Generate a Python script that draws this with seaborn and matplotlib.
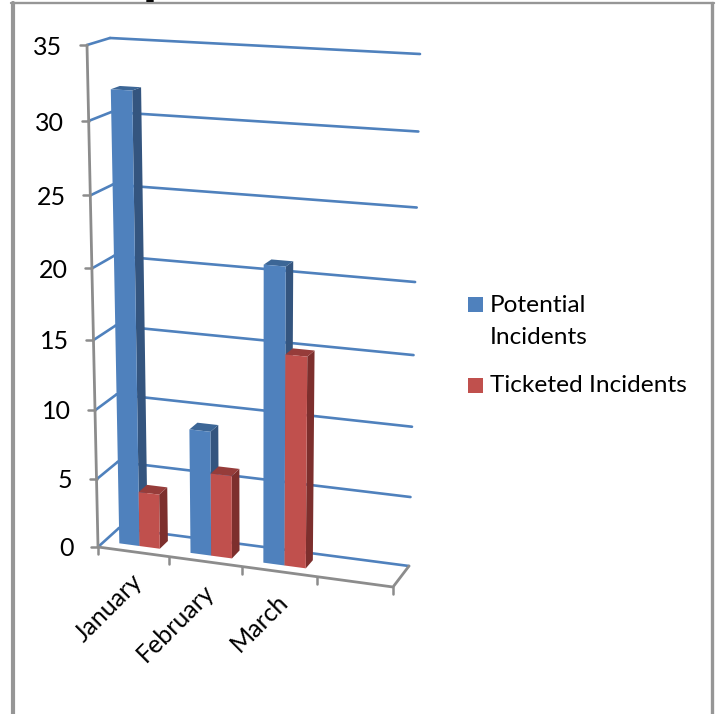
"""Recreates a 3D style column chart with seaborn bars pushed through a perspective."""

import matplotlib
matplotlib.use("Agg")
import matplotlib.pyplot as plt
import numpy as np
import pandas as pd
import seaborn as sns
from matplotlib.lines import Line2D
from matplotlib.patches import Polygon, Rectangle
from matplotlib.transforms import Affine2D, Transform

months = ["January", "February", "March"]
series_names = ["Potential Incidents", "Ticketed Incidents"]
potential = [32, 9, 21]
ticketed = [4, 6, 15]
value_ticks = [0, 5, 10, 15, 20, 25, 30, 35]

WIDTH, HEIGHT = 718, 714
BLUE, BLUE_SIDE, BLUE_TOP = "#4F81BD", "#34557F", "#3C6696"
RED, RED_SIDE, RED_TOP = "#C0504D", "#7D2F2D", "#963C3A"
GRID = "#4F81BD"
AXIS = "#8C8C8C"
FRAME = "#969696"
BAR_Z = (0.3, 0.7)
FONT_SIZE = 18

# picture positions of the corners of the front and back planes
FRONT = [(98, 547), (393, 587), (403, 62), (87, 45)]
BACK = [(119, 528), (409, 566), (420, 54), (110, 38)]
PLANE = [(0, 0), (4, 0), (4, 35), (0, 35)]

sns.set_theme(style="white")
plt.rcParams["font.family"] = ["Lato", "DejaVu Sans"]


def homography(src, dst):
    rows, rhs = [], []
    for (x, y), (u, v) in zip(src, dst):
        rows.append([x, y, 1, 0, 0, 0, -u * x, -u * y])
        rows.append([0, 0, 0, x, y, 1, -v * x, -v * y])
        rhs += [u, v]
    return np.append(np.linalg.solve(np.array(rows, float), np.array(rhs, float)), 1).reshape(3, 3)


H_FRONT = homography(PLANE, FRONT)
H_BACK = homography(PLANE, BACK)


def apply_h(h, x, v):
    pts = h @ np.vstack([x, v, np.ones_like(x)])
    return pts[:2] / pts[2]


def project(x, v, z=0.0):
    """Plane position (0-4, value) at depth z to picture pixels."""
    x, v = np.atleast_1d(np.asarray(x, float)), np.atleast_1d(np.asarray(v, float))
    return ((1 - z) * apply_h(H_FRONT, x, v) + z * apply_h(H_BACK, x, v)).T


class Perspective(Transform):
    input_dims = output_dims = 2
    is_affine = False

    def __init__(self, z=0.0, shift=0.0):
        super().__init__()
        self.z = z
        self.shift = shift

    def transform_non_affine(self, values):
        values = np.asarray(values, float)
        pix = project(values[:, 0] + self.shift, values[:, 1], self.z)
        return np.column_stack([pix[:, 0], HEIGHT - pix[:, 1]])


pixels = Affine2D().scale(1, -1).translate(0, HEIGHT)

df = pd.DataFrame({
    "month": months * 2,
    "series": [series_names[0]] * 3 + [series_names[1]] * 3,
    "incidents": potential + ticketed,
})

fig = plt.figure(figsize=(WIDTH / 100, HEIGHT / 100), dpi=100, facecolor="white")
ax = fig.add_axes([0, 0, 1, 1])
sns.barplot(data=df, x="month", y="incidents", hue="series", palette=[BLUE, RED],
            width=0.572, gap=0, saturation=1, legend=False, ax=ax, zorder=3)
ax.set_xlim(-0.5, 3.5)
ax.set_ylim(0, 35)
ax.set_axis_off()

# walls
for v in value_ticks:
    ax.plot([0, 4], [v, v], color=GRID, lw=1.9, transform=Perspective(1.0), clip_on=False, zorder=1)
    a, b = project(0, v, 0)[0], project(0, v, 1)[0]
    ax.plot([a[0], b[0]], [a[1], b[1]], color=GRID, lw=1.9, transform=pixels, clip_on=False, zorder=1)

# axis lines and ticks
axis_pts = np.array([project(0, 35, 0)[0], project(0, 0, 0)[0], project(4, 0, 0)[0], project(4, 0, 1)[0]])
ax.plot(axis_pts[:, 0], axis_pts[:, 1], color=AXIS, lw=2, transform=pixels, clip_on=False, zorder=2)
for v in value_ticks:
    x, y = project(0, v, 0)[0]
    ax.plot([x - 7, x], [y, y], color=AXIS, lw=1.8, transform=pixels, clip_on=False, zorder=2)
    ax.text(x - 24.5, y + 1 + v / 20, str(v), ha="right", va="center", fontsize=FONT_SIZE, color="black",
            transform=pixels)
for i in range(5):
    x, y = project(i, 0, 0)[0]
    ax.plot([x, x], [y, y + 7], color=AXIS, lw=1.8, transform=pixels, clip_on=False, zorder=2)
for i, month in enumerate(months):
    x, y = project(i + 0.5, 0, 0)[0]
    ax.text(x + 5, y + 26, month, rotation=45, rotation_mode="anchor", ha="right", va="center",
            fontsize=FONT_SIZE, color="black", transform=pixels)

# bars: seaborn front faces warped, with side and top faces added from their geometry
shades = {BLUE: (BLUE_SIDE, BLUE_TOP), RED: (RED_SIDE, RED_TOP)}
order = 3
for j, container in enumerate(ax.containers):
    side_col, top_col = shades[[BLUE, RED][j]]
    for bar in container:
        x0, x1, h = bar.get_x(), bar.get_x() + bar.get_width(), bar.get_height()
        if np.isnan(h):
            continue
        xa, xb = x0 + 0.5, x1 + 0.5
        z0, z1 = BAR_Z
        side = [project(xb, 0, z0)[0], project(xb, h, z0)[0], project(xb, h, z1)[0], project(xb, 0, z1)[0]]
        top = [project(xa, h, z0)[0], project(xb, h, z0)[0], project(xb, h, z1)[0], project(xa, h, z1)[0]]
        ax.add_patch(Polygon(side, closed=True, fc=side_col, ec="none", transform=pixels, clip_on=False, zorder=order))
        ax.add_patch(Polygon(top, closed=True, fc=top_col, ec="none", transform=pixels, clip_on=False, zorder=order))
        bar.set_transform(Perspective(z0, 0.5))
        bar.set_clip_on(False)
        bar.set_edgecolor("none")
        bar.set_zorder(order + 0.5)
    order += 1

# legend
for py, color in [(297, BLUE), (378, RED)]:
    ax.add_patch(Rectangle((468, py), 15, 15, fc=color, ec="none", transform=pixels, clip_on=False))
for py, label in [(305, "Potential"), (337, "Incidents"), (386, series_names[1])]:
    ax.text(490, py, label, ha="left", va="center", fontsize=FONT_SIZE - 0.4, color="black", transform=pixels)

# frame of the pasted picture, with the speck of cut off ink on its top edge
for xs, ys, lw in [((13, 13), (3, 714), 3), ((712, 712), (3, 714), 2.4), ((11, 714), (3, 3), 1.7)]:
    fig.add_artist(Line2D(xs, ys, color=FRAME, lw=lw, transform=pixels))
fig.add_artist(Line2D((147, 153), (1, 1), color="black", lw=1.4, transform=pixels))

fig.savefig("out.png", dpi=100)
